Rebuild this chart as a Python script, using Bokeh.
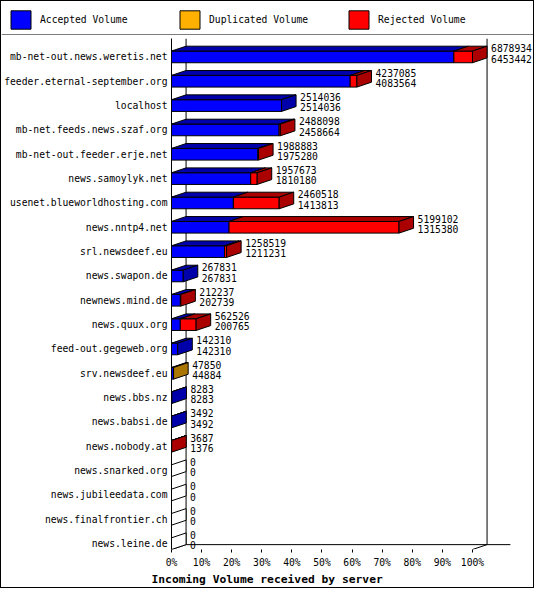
from bokeh.plotting import figure
from bokeh.layouts import column
from bokeh.models import (Range1d, FixedTicker, PrintfTickFormatter, Legend,
                          LegendItem, Title, Span)
from bokeh.embed import file_html
from bokeh.resources import INLINE
from bokeh.core.properties import value

# ---------------- data ----------------
servers = [
    "mb-net-out.news.weretis.net", "feeder.eternal-september.org", "localhost",
    "mb-net.feeds.news.szaf.org", "mb-net-out.feeder.erje.net", "news.samoylyk.net",
    "usenet.blueworldhosting.com", "news.nntp4.net", "srl.newsdeef.eu",
    "news.swapon.de", "newnews.mind.de", "news.quux.org", "feed-out.gegeweb.org",
    "srv.newsdeef.eu", "news.bbs.nz", "news.babsi.de", "news.nobody.at",
    "news.snarked.org", "news.jubileedata.com", "news.finalfrontier.ch", "news.leine.de",
]
accepted = [6453442, 4083564, 2514036, 2458664, 1975280, 1810180, 1413813, 1315380,
            1211231, 267831, 202739, 200765, 142310, 44884, 8283, 3492, 1376, 0, 0, 0, 0]
duplicated = [0, 0, 0, 0, 0, 0, 0, 0, 0, 0, 0, 0, 0, 2966, 0, 0, 0, 0, 0, 0, 0]
rejected = [425492, 153521, 0, 29434, 13603, 147493, 1046705, 3883722, 47288, 0, 9498,
            361761, 0, 0, 0, 0, 2311, 0, 0, 0, 0]
series_names = ["Accepted Volume", "Duplicated Volume", "Rejected Volume"]
x_ticks = [0, 10, 20, 30, 40, 50, 60, 70, 80, 90, 100]
x_title = "Incoming Volume received by server"

# ---------------- style ----------------
FONT = "DejaVu Sans Mono"
FRONT = ["#0000FF", "#FFB000", "#FF0000"]
SHADE = ["#0000AA", "#AA7500", "#AA0000"]
DX = 4.84    # depth in % units
DY = 0.2     # depth in row units
H = 0.24     # half bar height (rows)
Y_TOP, Y_BOT = -0.756, 20.24
X_END = 120.27

n = len(servers)
rows = list(range(n))
series = [accepted, duplicated, rejected]
totals = [a + d + r for a, d, r in zip(accepted, duplicated, rejected)]
vmax = max(totals)

p = figure(width=532, height=552, x_range=Range1d(0, X_END), y_range=Range1d(Y_BOT, Y_TOP),
           output_backend="svg", toolbar_location=None,
           min_border_left=170, min_border_right=0, min_border_top=3, min_border_bottom=38)
p.frame_align = False
p.outline_line_color = None
p.xgrid.grid_line_color = None
p.ygrid.grid_line_color = None

# frame / 3D walls
bz = Y_BOT - DY
p.segment(x0=[DX, DX, 100 + DX, 0, 100], y0=[Y_TOP, bz, Y_TOP, Y_BOT, Y_BOT],
          x1=[DX, 112.6, 100 + DX, DX, 100 + DX], y1=[bz, bz, bz, bz, bz],
          line_color="black", line_width=1)

# bars
cum = [0.0] * n
for k, vals in enumerate(series):
    pct = [v / vmax * 100 for v in vals]
    L, R, Y, txs, tys = [], [], [], [], []
    for i in rows:
        if vals[i] > 0:
            l, r = cum[i], cum[i] + pct[i]
            L.append(l); R.append(r); Y.append(i)
            txs.append([l, r, r + DX, l + DX])
            tys.append([i - H, i - H, i - H - DY, i - H - DY])
        cum[i] += pct[i]
    p.hbar(y=Y, left=L, right=R, height=2 * H, fill_color=FRONT[k], line_color="black", line_width=1)
    p.patches(xs=txs, ys=tys, fill_color=SHADE[k], line_color="black", line_width=1)

sxs, sys_, scol = [], [], []
for i in rows:
    e = cum[i]
    last = None
    for k in range(3):
        if series[k][i] > 0:
            last = k
    sxs.append([e, e + DX, e + DX, e])
    sys_.append([i - H, i - H - DY, i + H - DY, i + H])
    scol.append(SHADE[last] if last is not None else "white")
p.patches(xs=sxs, ys=sys_, fill_color=scol, line_color="black", line_width=1)

# value labels
lab_x = [c + DX for c in cum]
p.text(x=lab_x + lab_x, y=[i - 0.35 for i in rows] + [i + 0.07 for i in rows],
       text=[str(t) for t in totals] + [str(a) for a in accepted],
       x_offset=4, text_font=value(FONT), text_font_size="9.7px",
       text_baseline="middle", text_align="left", text_color="black")

# axes
p.yaxis.ticker = FixedTicker(ticks=rows)
p.yaxis.major_label_overrides = {i: s for i, s in enumerate(servers)}
p.yaxis.major_tick_out = 0
p.yaxis.major_tick_in = 0
p.yaxis.minor_tick_line_color = None
p.yaxis.major_label_standoff = 4
p.yaxis.major_label_text_font = FONT
p.yaxis.major_label_text_font_size = "9.7px"
p.yaxis.major_label_text_color = "black"
p.yaxis.axis_line_color = "black"

p.xaxis.ticker = FixedTicker(ticks=x_ticks)
p.xaxis.formatter = PrintfTickFormatter(format="%d%%")
p.xaxis.axis_line_color = None
p.xaxis.major_tick_in = 0
p.xaxis.major_tick_out = 3
p.xaxis.major_tick_line_color = "black"
p.xaxis.minor_tick_line_color = None
p.xaxis.major_label_standoff = 4
p.xaxis.major_label_text_font = FONT
p.xaxis.major_label_text_font_size = "9.7px"
p.xaxis.major_label_text_color = "black"

p.add_layout(Title(text=x_title, align="left", offset=-20, standoff=0,
                   text_font=FONT, text_font_style="bold", text_font_size="11.3px",
                   text_color="black"), "below")

# legend figure
lg = figure(width=532, height=34, x_range=Range1d(0, 1), y_range=Range1d(0, 1),
            x_axis_type=None, y_axis_type=None, output_backend="svg",
            toolbar_location=None, min_border=0, outline_line_color=None)
lg.frame_align = False
items = []
for k in range(3):
    r = lg.hbar(y=[5], left=[5], right=[6], height=1, fill_color=FRONT[k], line_color="black")
    items.append(LegendItem(label=series_names[k], renderers=[r]))
leg = Legend(items=items, orientation="horizontal", location=(7, 4), padding=0, margin=0,
             glyph_width=25, glyph_height=23, label_standoff=7, label_width=135, spacing=2,
             label_text_font=FONT, label_text_font_size="9.7px", label_text_color="black",
             border_line_color=None, background_fill_alpha=0)
lg.add_layout(leg)
lg.add_layout(Span(location=0.015, dimension="width", line_color="black", line_width=1))

layout = column(lg, p, spacing=0, styles={"border": "1px solid black"})

open("out.html", "w").write(file_html(layout, INLINE))
